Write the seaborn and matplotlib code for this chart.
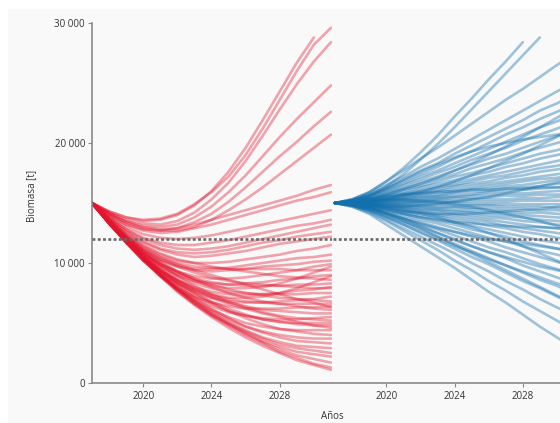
import numpy as np
import pandas as pd
import matplotlib
matplotlib.use("Agg")
import matplotlib.pyplot as plt
from matplotlib.patches import Rectangle
import seaborn as sns

nan = np.nan

# Projection years
years = list(range(2017, 2032))

# Biomass trajectories (thousand tonnes), one list per simulation run
red_runs = [
    [15.0, 14.3, 13.8, 13.6, 13.7, 14.1, 14.9, 15.9, 17.2, 19.0, 21.2, 23.6, 26.0, 28.2, 29.6],
    [15.0, 14.3, 13.8, 13.5, 13.6, 14.0, 14.8, 16.0, 17.6, 19.6, 21.9, 24.3, 26.7, 28.8, nan],
    [15.0, 14.2, 13.6, 13.3, 13.2, 13.5, 14.2, 15.3, 16.7, 18.5, 20.6, 22.8, 24.9, 26.8, 28.4],
    [15.0, 14.2, 13.5, 13.1, 13.0, 13.2, 13.8, 14.7, 15.9, 17.3, 18.9, 20.5, 22.0, 23.4, 24.8],
    [15.0, 14.1, 13.4, 13.0, 12.8, 12.9, 13.4, 14.1, 15.1, 16.3, 17.6, 18.9, 20.1, 21.4, 22.6],
    [15.0, 14.1, 13.4, 12.9, 12.7, 12.7, 13.0, 13.6, 14.4, 15.3, 16.3, 17.4, 18.5, 19.6, 20.7],
    [15.0, 14.0, 13.2, 12.8, 12.7, 12.9, 13.2, 13.6, 14.0, 14.4, 14.8, 15.2, 15.6, 16.1, 16.5],
    [15.0, 14.0, 13.2, 12.7, 12.5, 12.6, 12.9, 13.2, 13.6, 14.0, 14.4, 14.8, 15.2, 15.5, 15.9],
    [15.0, 13.9, 13.0, 12.4, 12.1, 12.0, 12.1, 12.3, 12.6, 12.9, 13.2, 13.5, 13.8, 14.1, 14.4],
    [15.0, 13.8, 12.8, 12.1, 11.7, 11.5, 11.5, 11.7, 11.9, 12.2, 12.5, 12.8, 13.1, 13.3, 13.6],
    [15.0, 13.8, 12.8, 12.0, 11.5, 11.2, 11.1, 11.2, 11.4, 11.7, 12.0, 12.3, 12.6, 12.9, 13.2],
    [15.0, 13.7, 12.6, 11.8, 11.2, 10.9, 10.8, 10.9, 11.1, 11.4, 11.7, 11.9, 12.2, 12.4, 12.6],
    [15.0, 13.7, 12.6, 11.7, 11.1, 10.7, 10.5, 10.6, 10.8, 11.0, 11.3, 11.6, 11.8, 12.0, 12.2],
    [15.0, 13.6, 12.4, 11.4, 10.7, 10.2, 10.0, 10.0, 10.1, 10.3, 10.5, 10.7, 11.0, 11.2, 11.5],
    [15.0, 13.5, 12.2, 11.1, 10.3, 9.8, 9.5, 9.5, 9.6, 9.8, 10.0, 10.2, 10.4, 10.5, 10.7],
    [15.0, 13.5, 12.1, 11.0, 10.2, 9.7, 9.4, 9.3, 9.4, 9.5, 9.7, 9.8, 9.9, 10.1, 10.2],
    [15.0, 13.4, 12.0, 10.8, 9.9, 9.3, 8.9, 8.7, 8.7, 8.8, 9.0, 9.2, 9.4, 9.7, 9.9],
    [15.0, 13.5, 12.2, 11.2, 10.5, 10.0, 9.7, 9.6, 9.5, 9.5, 9.5, 9.5, 9.4, 9.4, 9.4],
    [15.0, 13.4, 11.9, 10.7, 9.7, 9.0, 8.5, 8.3, 8.2, 8.3, 8.4, 8.6, 8.7, 8.9, 9.0],
    [15.0, 13.6, 12.4, 11.5, 10.8, 10.3, 10.0, 9.7, 9.5, 9.3, 9.1, 8.9, 8.8, 8.7, 8.6],
    [15.0, 13.4, 12.0, 10.8, 9.9, 9.2, 8.7, 8.4, 8.2, 8.1, 8.1, 8.1, 8.2, 8.2, 8.3],
    [15.0, 13.3, 11.8, 10.5, 9.4, 8.6, 8.0, 7.6, 7.4, 7.3, 7.4, 7.5, 7.7, 7.8, 8.0],
    [15.0, 13.5, 12.2, 11.1, 10.3, 9.7, 9.2, 8.8, 8.5, 8.3, 8.2, 8.1, 8.0, 7.9, 7.9],
    [15.0, 13.4, 11.9, 10.7, 9.7, 8.9, 8.3, 7.9, 7.6, 7.5, 7.4, 7.4, 7.4, 7.5, 7.5],
    [15.0, 13.3, 11.7, 10.3, 9.2, 8.3, 7.6, 7.1, 6.8, 6.7, 6.7, 6.8, 6.9, 7.0, 7.2],
    [15.0, 13.5, 12.1, 10.9, 10.0, 9.3, 8.7, 8.2, 7.8, 7.5, 7.3, 7.1, 7.0, 6.9, 6.8],
    [15.0, 13.4, 11.8, 10.5, 9.4, 8.5, 7.8, 7.3, 7.0, 6.8, 6.7, 6.6, 6.6, 6.6, 6.6],
    [15.0, 13.3, 11.7, 10.2, 9.0, 8.0, 7.2, 6.7, 6.4, 6.2, 6.2, 6.2, 6.3, 6.3, 6.4],
    [15.0, 13.5, 12.2, 11.0, 10.1, 9.3, 8.6, 8.0, 7.5, 7.1, 6.8, 6.6, 6.4, 6.2, 6.1],
    [15.0, 13.4, 11.9, 10.6, 9.5, 8.6, 7.8, 7.2, 6.7, 6.4, 6.1, 6.0, 5.9, 5.8, 5.8],
    [15.0, 13.3, 11.7, 10.2, 9.0, 7.9, 7.1, 6.4, 5.9, 5.6, 5.4, 5.3, 5.3, 5.4, 5.5],
    [15.0, 13.4, 12.0, 10.8, 9.8, 8.9, 8.1, 7.4, 6.8, 6.3, 5.9, 5.6, 5.4, 5.3, 5.2],
    [15.0, 13.3, 11.8, 10.4, 9.2, 8.2, 7.3, 6.6, 6.0, 5.6, 5.3, 5.1, 5.0, 5.0, 5.0],
    [15.0, 13.4, 11.9, 10.5, 9.3, 8.3, 7.5, 6.8, 6.2, 5.7, 5.3, 5.1, 4.9, 4.8, 4.8],
    [15.0, 13.3, 11.7, 10.2, 8.9, 7.8, 6.9, 6.1, 5.5, 5.0, 4.7, 4.5, 4.4, 4.4, 4.4],
    [15.0, 13.4, 11.9, 10.6, 9.4, 8.4, 7.5, 6.7, 6.0, 5.4, 4.9, 4.5, 4.3, 4.1, 4.0],
    [15.0, 13.3, 11.8, 10.3, 9.0, 7.9, 6.9, 6.0, 5.3, 4.7, 4.3, 4.0, 3.8, 3.7, 3.7],
    [15.0, 13.4, 11.9, 10.5, 9.2, 8.1, 7.1, 6.2, 5.4, 4.7, 4.2, 3.8, 3.5, 3.4, 3.3],
    [15.0, 13.3, 11.8, 10.3, 9.0, 7.8, 6.8, 5.9, 5.1, 4.4, 3.8, 3.4, 3.1, 3.0, 2.9],
    [15.0, 13.4, 11.9, 10.4, 9.1, 7.9, 6.8, 5.8, 5.0, 4.3, 3.7, 3.2, 2.9, 2.7, 2.5],
    [15.0, 13.3, 11.8, 10.3, 8.9, 7.7, 6.6, 5.7, 4.9, 4.2, 3.5, 3.0, 2.6, 2.4, 2.2],
    [15.0, 13.4, 11.9, 10.4, 9.0, 7.8, 6.7, 5.7, 4.9, 4.1, 3.4, 2.8, 2.3, 2.0, 1.7],
    [15.0, 13.4, 11.9, 10.4, 9.0, 7.7, 6.6, 5.6, 4.8, 4.0, 3.3, 2.6, 2.1, 1.6, 1.3],
    [15.0, 13.3, 11.8, 10.3, 8.9, 7.6, 6.5, 5.5, 4.6, 3.8, 3.1, 2.5, 1.9, 1.5, 1.1],
    [15.0, 13.5, 12.1, 10.9, 9.9, 9.1, 8.5, 8.1, 7.9, 7.9, 8.0, 8.3, 8.7, 9.2, 9.7],
    [15.0, 13.4, 11.9, 10.6, 9.5, 8.6, 7.9, 7.4, 7.1, 7.1, 7.2, 7.5, 7.9, 8.4, 8.9],
    [15.0, 13.6, 12.3, 11.3, 10.5, 9.9, 9.4, 9.0, 8.6, 8.2, 7.8, 7.4, 7.0, 6.7, 6.3],
    [15.0, 13.3, 11.8, 10.4, 9.3, 8.4, 7.7, 7.1, 6.6, 6.2, 5.8, 5.5, 5.1, 4.8, 4.6],
]

blue_runs = [
    [15.0, 15.3, 15.9, 16.8, 17.9, 19.2, 20.6, 22.2, 23.7, 25.3, 26.8, 28.4, nan, nan, nan],
    [15.0, 15.2, 15.6, 16.4, 17.4, 18.6, 19.9, 21.3, 22.8, 24.3, 25.8, 27.3, 28.8, nan, nan],
    [15.0, 15.3, 15.9, 16.8, 17.7, 18.7, 19.6, 20.6, 21.6, 22.6, 23.6, 24.5, 25.5, 26.5, 27.4],
    [15.0, 15.3, 15.8, 16.5, 17.2, 18.0, 18.7, 19.5, 20.3, 21.1, 21.9, 22.7, 23.5, 24.3, 25.0],
    [15.0, 15.2, 15.7, 16.3, 17.0, 17.7, 18.3, 19.1, 19.8, 20.5, 21.2, 21.9, 22.7, 23.3, 24.0],
    [15.0, 15.2, 15.6, 16.2, 16.8, 17.4, 18.0, 18.7, 19.3, 20.0, 20.7, 21.3, 22.0, 22.6, 23.2],
    [15.0, 15.2, 15.6, 16.1, 16.6, 17.2, 17.7, 18.3, 18.9, 19.5, 20.1, 20.7, 21.3, 21.8, 22.4],
    [15.0, 15.2, 15.5, 16.0, 16.5, 17.0, 17.5, 18.0, 18.6, 19.1, 19.6, 20.2, 20.7, 21.2, 21.7],
    [15.0, 15.2, 15.5, 15.9, 16.3, 16.8, 17.2, 17.7, 18.2, 18.7, 19.1, 19.6, 20.1, 20.6, 21.0],
    [15.0, 15.1, 15.4, 15.8, 16.2, 16.6, 17.0, 17.4, 17.9, 18.3, 18.7, 19.2, 19.6, 20.0, 20.4],
    [15.0, 15.1, 15.4, 15.7, 16.1, 16.4, 16.8, 17.2, 17.5, 17.9, 18.3, 18.7, 19.1, 19.4, 19.8],
    [15.0, 15.1, 15.3, 15.6, 15.9, 16.3, 16.6, 16.9, 17.3, 17.6, 18.0, 18.3, 18.7, 19.0, 19.3],
    [15.0, 15.1, 15.3, 15.6, 15.8, 16.1, 16.4, 16.7, 17.0, 17.3, 17.6, 17.9, 18.2, 18.5, 18.8],
    [15.0, 15.1, 15.3, 15.5, 15.7, 16.0, 16.3, 16.5, 16.8, 17.1, 17.3, 17.6, 17.9, 18.1, 18.4],
    [15.0, 15.1, 15.2, 15.4, 15.7, 15.9, 16.1, 16.4, 16.6, 16.8, 17.1, 17.3, 17.6, 17.8, 18.0],
    [15.0, 15.1, 15.2, 15.4, 15.6, 15.8, 16.0, 16.2, 16.4, 16.6, 16.8, 17.0, 17.2, 17.4, 17.6],
    [15.0, 15.1, 15.2, 15.3, 15.5, 15.7, 15.9, 16.0, 16.2, 16.4, 16.6, 16.8, 17.0, 17.1, 17.3],
    [15.0, 15.1, 15.2, 15.3, 15.4, 15.6, 15.7, 15.9, 16.1, 16.2, 16.4, 16.5, 16.7, 16.9, 17.0],
    [15.0, 15.0, 15.1, 15.2, 15.4, 15.5, 15.6, 15.8, 15.9, 16.0, 16.2, 16.3, 16.4, 16.6, 16.7],
    [15.0, 15.0, 15.1, 15.2, 15.3, 15.4, 15.5, 15.6, 15.7, 15.9, 16.0, 16.1, 16.2, 16.3, 16.4],
    [15.0, 15.0, 15.1, 15.2, 15.2, 15.3, 15.4, 15.5, 15.6, 15.7, 15.8, 15.8, 15.9, 16.0, 16.1],
    [15.0, 15.0, 15.1, 15.1, 15.2, 15.2, 15.3, 15.4, 15.4, 15.5, 15.6, 15.6, 15.7, 15.7, 15.8],
    [15.0, 15.0, 15.0, 15.1, 15.1, 15.1, 15.2, 15.2, 15.3, 15.3, 15.3, 15.4, 15.4, 15.5, 15.5],
    [15.0, 15.0, 15.0, 15.0, 15.0, 15.1, 15.1, 15.1, 15.1, 15.1, 15.1, 15.2, 15.2, 15.2, 15.2],
    [15.0, 15.0, 15.0, 15.0, 15.0, 15.0, 15.0, 15.0, 14.9, 14.9, 14.9, 14.9, 14.9, 14.9, 14.9],
    [15.0, 15.0, 15.0, 14.9, 14.9, 14.9, 14.9, 14.8, 14.8, 14.8, 14.7, 14.7, 14.7, 14.6, 14.6],
    [15.0, 15.0, 14.9, 14.9, 14.8, 14.8, 14.7, 14.7, 14.6, 14.6, 14.5, 14.5, 14.4, 14.4, 14.3],
    [15.0, 15.0, 14.9, 14.9, 14.8, 14.7, 14.6, 14.6, 14.5, 14.4, 14.3, 14.2, 14.2, 14.1, 14.0],
    [15.0, 15.0, 14.9, 14.8, 14.7, 14.6, 14.5, 14.4, 14.3, 14.2, 14.1, 14.0, 13.9, 13.8, 13.7],
    [15.0, 15.0, 14.9, 14.8, 14.6, 14.5, 14.4, 14.3, 14.2, 14.0, 13.9, 13.8, 13.6, 13.5, 13.4],
    [15.0, 15.0, 14.9, 14.7, 14.6, 14.4, 14.3, 14.1, 14.0, 13.8, 13.7, 13.5, 13.4, 13.2, 13.1],
    [15.0, 14.9, 14.8, 14.7, 14.5, 14.3, 14.1, 14.0, 13.8, 13.6, 13.4, 13.2, 13.0, 12.9, 12.7],
    [15.0, 14.9, 14.8, 14.6, 14.4, 14.2, 14.0, 13.8, 13.6, 13.4, 13.1, 12.9, 12.7, 12.5, 12.3],
    [15.0, 14.9, 14.8, 14.6, 14.3, 14.1, 13.9, 13.6, 13.4, 13.1, 12.9, 12.6, 12.4, 12.1, 11.9],
    [15.0, 14.9, 14.7, 14.5, 14.2, 13.9, 13.7, 13.4, 13.1, 12.8, 12.5, 12.2, 11.9, 11.7, 11.4],
    [15.0, 14.9, 14.7, 14.4, 14.1, 13.8, 13.5, 13.2, 12.8, 12.5, 12.2, 11.8, 11.5, 11.2, 10.9],
    [15.0, 14.9, 14.6, 14.3, 14.0, 13.6, 13.3, 12.9, 12.5, 12.1, 11.8, 11.4, 11.0, 10.7, 10.3],
    [15.0, 14.9, 14.6, 14.2, 13.8, 13.4, 13.0, 12.6, 12.2, 11.8, 11.3, 10.9, 10.5, 10.1, 9.7],
    [15.0, 14.9, 14.6, 14.1, 13.7, 13.2, 12.8, 12.3, 11.8, 11.3, 10.9, 10.4, 9.9, 9.5, 9.0],
    [15.0, 14.8, 14.5, 14.0, 13.5, 13.0, 12.5, 12.0, 11.4, 10.9, 10.4, 9.8, 9.3, 8.8, 8.3],
    [15.0, 14.8, 14.4, 13.9, 13.4, 12.8, 12.2, 11.6, 11.0, 10.4, 9.8, 9.2, 8.6, 8.1, 7.5],
    [15.0, 14.8, 14.4, 13.8, 13.2, 12.5, 11.9, 11.2, 10.5, 9.9, 9.2, 8.5, 7.9, 7.2, 6.6],
    [15.0, 14.8, 14.3, 13.6, 12.9, 12.2, 11.5, 10.8, 10.0, 9.3, 8.5, 7.8, 7.0, 6.3, 5.6],
    [15.0, 14.7, 14.2, 13.5, 12.7, 11.9, 11.1, 10.2, 9.4, 8.5, 7.7, 6.8, 6.0, 5.2, 4.4],
    [15.0, 14.7, 14.1, 13.2, 12.3, 11.4, 10.5, 9.6, 8.6, 7.6, 6.7, 5.7, 4.7, 3.8, 2.9],
    [15.0, 15.2, 15.6, 16.2, 16.9, 17.6, 18.2, 18.8, 19.3, 19.7, 20.0, 20.3, 20.5, 20.7, 20.9],
    [15.0, 15.1, 15.3, 15.7, 16.1, 16.6, 17.1, 17.7, 18.3, 19.0, 19.7, 20.5, 21.3, 22.1, 23.0],
    [15.0, 15.0, 15.1, 15.3, 15.6, 15.9, 16.3, 16.8, 17.3, 17.9, 18.5, 19.1, 19.8, 20.5, 21.2],
    [15.0, 15.1, 15.3, 15.5, 15.7, 15.8, 15.9, 16.0, 16.1, 16.1, 16.2, 16.2, 16.3, 16.3, 16.4],
    [15.0, 14.9, 14.8, 14.7, 14.7, 14.8, 14.9, 15.1, 15.3, 15.5, 15.8, 16.1, 16.4, 16.7, 17.0],
    [15.0, 14.9, 14.7, 14.5, 14.3, 14.2, 14.1, 14.1, 14.1, 14.2, 14.3, 14.4, 14.5, 14.7, 14.8],
    [15.0, 15.1, 15.2, 15.3, 15.3, 15.2, 15.1, 14.9, 14.7, 14.4, 14.1, 13.8, 13.5, 13.1, 12.8],
    [15.0, 14.9, 14.7, 14.4, 14.1, 13.8, 13.6, 13.4, 13.3, 13.2, 13.1, 13.0, 13.0, 12.9, 12.9],
    [15.0, 14.8, 14.5, 14.1, 13.7, 13.3, 12.9, 12.6, 12.3, 12.0, 11.8, 11.6, 11.4, 11.2, 11.0],
    [15.0, 14.9, 14.8, 14.6, 14.4, 14.1, 13.8, 13.4, 13.0, 12.5, 12.0, 11.4, 10.8, 10.2, 9.5],
    [15.0, 14.9, 14.6, 14.2, 13.7, 13.1, 12.5, 11.9, 11.4, 10.9, 10.5, 10.1, 9.7, 9.4, 9.1],
    [15.0, 14.8, 14.4, 13.8, 13.2, 12.6, 12.0, 11.4, 10.9, 10.3, 9.8, 9.3, 8.8, 8.3, 7.9],
    [15.0, 14.9, 14.6, 14.1, 13.5, 12.9, 12.2, 11.5, 10.8, 10.1, 9.4, 8.7, 8.0, 7.3, 6.6],
]

reference_level = 12000
y_ticks = [0, 10000, 20000, 30000]
y_tick_labels = ["0", "10 000", "20 000", "30 000"]
x_ticks = [2020, 2024, 2028]


def to_frame(runs):
    rows = []
    for i, run in enumerate(runs):
        for yr, v in zip(years, run):
            if not np.isnan(v):
                rows.append({"run": i, "year": yr, "biomass": v * 1000})
    return pd.DataFrame(rows)


red_df = to_frame(red_runs)
blue_df = to_frame(blue_runs)

sns.set_style("white")
plt.rcParams["font.family"] = ["Open Sans", "DejaVu Sans"]

W, H = 560, 423
fig = plt.figure(figsize=(W / 100, H / 100), dpi=100)
fig.patch.set_facecolor("white")
fig.patches.append(Rectangle((8 / W, 0), 1, 1 - 9 / H, transform=fig.transFigure,
                             facecolor="#f9f9f9", edgecolor="none", zorder=-10))

bottom = (H - 383) / H
height = 360 / H
width = 240 / W
ax1 = fig.add_axes([92 / W, bottom, width, height])
ax2 = fig.add_axes([333 / W, bottom, width, height])

red = "#e3142d"
blue = "#1370ad"

sns.lineplot(data=red_df, x="year", y="biomass", units="run", estimator=None,
             color=red, alpha=0.38, lw=1.9, ax=ax1, legend=False)
sns.lineplot(data=blue_df, x="year", y="biomass", units="run", estimator=None,
             color=blue, alpha=0.4, lw=1.9, ax=ax2, legend=False)

spine_col = "#8a8a8a"
text_col = "#333333"
for ax, x0 in ((ax1, 2017.0), (ax2, 2016.88)):
    ax.set_facecolor("none")
    ax.set_xlim(x0, x0 + 14.06)
    ax.set_ylim(0, 30000)
    hl = ax.axhline(reference_level, color="#6a6a6a", lw=1.9, zorder=5)
    hl.set_dashes([1.1, 0.9])
    ax.set_xticks(x_ticks)
    ax.set_xticklabels([str(t) for t in x_ticks])
    ax.tick_params(axis="x", length=3, width=0.8, color=spine_col, pad=3,
                   labelsize=7, labelcolor=text_col, direction="out", bottom=True)
    for side in ("top", "right"):
        ax.spines[side].set_visible(False)
    ax.spines["bottom"].set_color(spine_col)
    ax.spines["bottom"].set_linewidth(1.2)
    ax.set_xlabel("")
    ax.set_ylabel("")

ax1.set_yticks(y_ticks)
ax1.set_yticklabels(y_tick_labels)
ax1.tick_params(axis="y", length=3, width=0.8, color=spine_col, pad=2,
                labelsize=7, labelcolor=text_col, direction="out", left=True)
ax1.spines["left"].set_color(spine_col)
ax1.spines["left"].set_linewidth(1.2)
ax1.set_ylabel("Biomasa [t]", fontsize=7, color=text_col)
ax1.yaxis.set_label_coords(-0.228, 0.52)

ax2.spines["left"].set_visible(False)
ax2.set_yticks([])

fig.text(332 / W, 1 - 422 / H, "Años", ha="center", va="bottom", fontsize=7, color=text_col)

fig.savefig("out.png", dpi=100, facecolor=fig.get_facecolor())
